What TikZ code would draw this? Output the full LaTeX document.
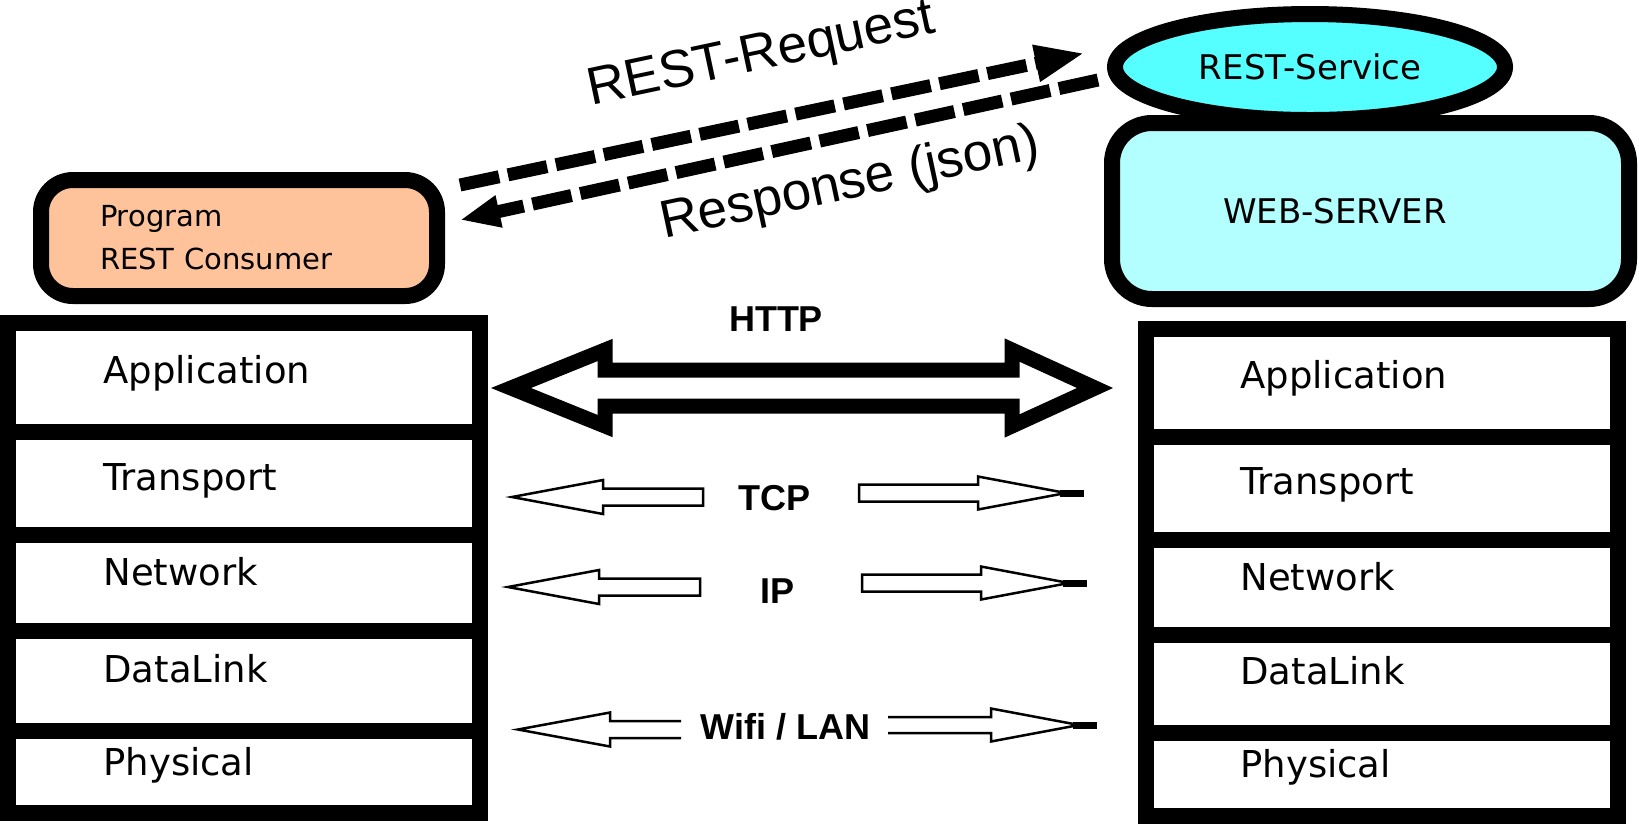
\documentclass[tikz,border=0pt]{standalone}
\usepackage{fontspec}
\usetikzlibrary{arrows.meta,shapes.geometric}
\newfontfamily\layerfont{DejaVu Sans}
\newfontfamily\labelfont{Liberation Sans}
\definecolor{consumer}{HTML}{FFC39B}
\definecolor{service}{HTML}{55FFFF}
\definecolor{server}{HTML}{B3FFFF}
\tikzset{
  stack/.style={line width=8pt},
  layer/.style={anchor=base west, inner sep=0pt, font=\layerfont\fontsize{18.5}{22}\selectfont},
  proto/.style={anchor=base, inner sep=0pt, font=\labelfont\bfseries\fontsize{18}{21}\selectfont},
  thinarrow/.style={line width=1.25pt, line join=miter},
  rest/.style={line width=6.5pt, dash pattern=on 20pt off 4.5pt},
  resttext/.style={anchor=base, inner sep=0pt, rotate=12, font=\labelfont\fontsize{26.5}{32}\selectfont},
}
\begin{document}
\begin{tikzpicture}[x=0.5pt,y=-0.5pt]
  \useasboundingbox (0,0) rectangle (1639,827);

  % consumer side
  \node[draw, fill=consumer, line width=8pt, rounded corners=16pt, minimum width=198pt,
        minimum height=58pt, text width=139pt, inner xsep=29.5pt, align=left,
        font=\layerfont\fontsize{14.5}{21.5}\selectfont] (prog) at (239,238)
        {Program\\REST Consumer};

  \draw[stack] (8,322.5) rectangle (480,812.5);
  \foreach \y in {432,534.5,631,730.5} {
    \draw[stack] (8,\y) -- (480,\y);
  }
  \foreach \t/\y [count=\i] in {Application/383,Transport/490,Network/585,DataLink/682,Physical/775} {
    \node[layer] (cl\i) at (103,\y) {\t};
  }

  % server side
  \node[ellipse, draw, fill=service, line width=8pt, minimum width=195pt, minimum height=53pt,
        inner sep=0pt, font=\layerfont\fontsize{17}{20}\selectfont] (service) at (1310,67) {REST-Service};
  \node[draw, fill=server, line width=8pt, rounded corners=20pt, minimum width=258.5pt,
        minimum height=88pt, text width=147.5pt, inner xsep=55.5pt, align=left,
        font=\layerfont\fontsize{17}{20}\selectfont] (server) at (1370.5,211) {WEB-SERVER};

  \draw[stack] (1145.5,328.5) rectangle (1617.5,816);
  \foreach \y in {437,539.5,634.5,733} {
    \draw[stack] (1145.5,\y) -- (1617.5,\y);
  }
  \foreach \t/\y [count=\i] in {Application/388,Transport/494,Network/590,DataLink/684,Physical/777} {
    \node[layer] (sl\i) at (1240,\y) {\t};
  }

  % request / response
  \coordinate (req-a) at (460,185);
  \coordinate (req-b) at (1085,53);
  \coordinate (resp-a) at (1098,80);
  \coordinate (resp-b) at (460,220);
  \draw[rest, -{Triangle[length=25pt,width=17pt]}] (req-a) -- (req-b);
  \draw[rest, -{Triangle[length=20pt,width=15pt]}] (resp-a) -- (resp-b);
  \node[resttext] (reqtext) at (764,69) {REST-Request};
  \node[resttext] (resptext) at (853,198) {Response (json)};

  % HTTP double arrow
  \draw[line width=7.5pt, line join=miter] (511,388) -- (605,350) -- (605,370) -- (1012,370)
    -- (1012,350) -- (1095,388) -- (1012,426) -- (1012,406) -- (605,406) -- (605,426) -- cycle;

  % lower layers
  \foreach \tip/\back/\tail/\y in {512/603/703/497, 508/599/700/587} {
    \draw[thinarrow] (\tip,\y) -- (\back,\y-17) -- (\back,\y-8.5) -- (\tail,\y-8.5)
      -- (\tail,\y+8.5) -- (\back,\y+8.5) -- (\back,\y+17) -- cycle;
  }
  \foreach \tail/\back/\tip/\y in {859/978/1084/493, 862/981/1087/583} {
    \draw[thinarrow] (\tip-18,\y) -- (\back,\y-16.5) -- (\back,\y-8.5) -- (\tail,\y-8.5)
      -- (\tail,\y+8.5) -- (\back,\y+8.5) -- (\back,\y+16.5) -- cycle;
    \draw[line width=3.5pt] (\tip-24,\y) -- (\tip,\y);
  }
  \draw[thinarrow] (681,721) -- (610,721) -- (610,712.5) -- (518,729.5) -- (610,746.5)
    -- (610,738) -- (681,738);
  \draw[thinarrow] (888,717) -- (991,717) -- (991,708.5) -- (1079,725) -- (991,741.5)
    -- (991,733) -- (888,733);
  \draw[line width=3.5pt] (1073,725) -- (1097,725);

  \foreach \t/\x/\y [count=\i] in {HTTP/776/331, TCP/774.5/510, IP/777.5/603, {Wifi / LAN}/785.5/739} {
    \node[proto] (proto\i) at (\x,\y) {\t};
  }
\end{tikzpicture}
\end{document}
